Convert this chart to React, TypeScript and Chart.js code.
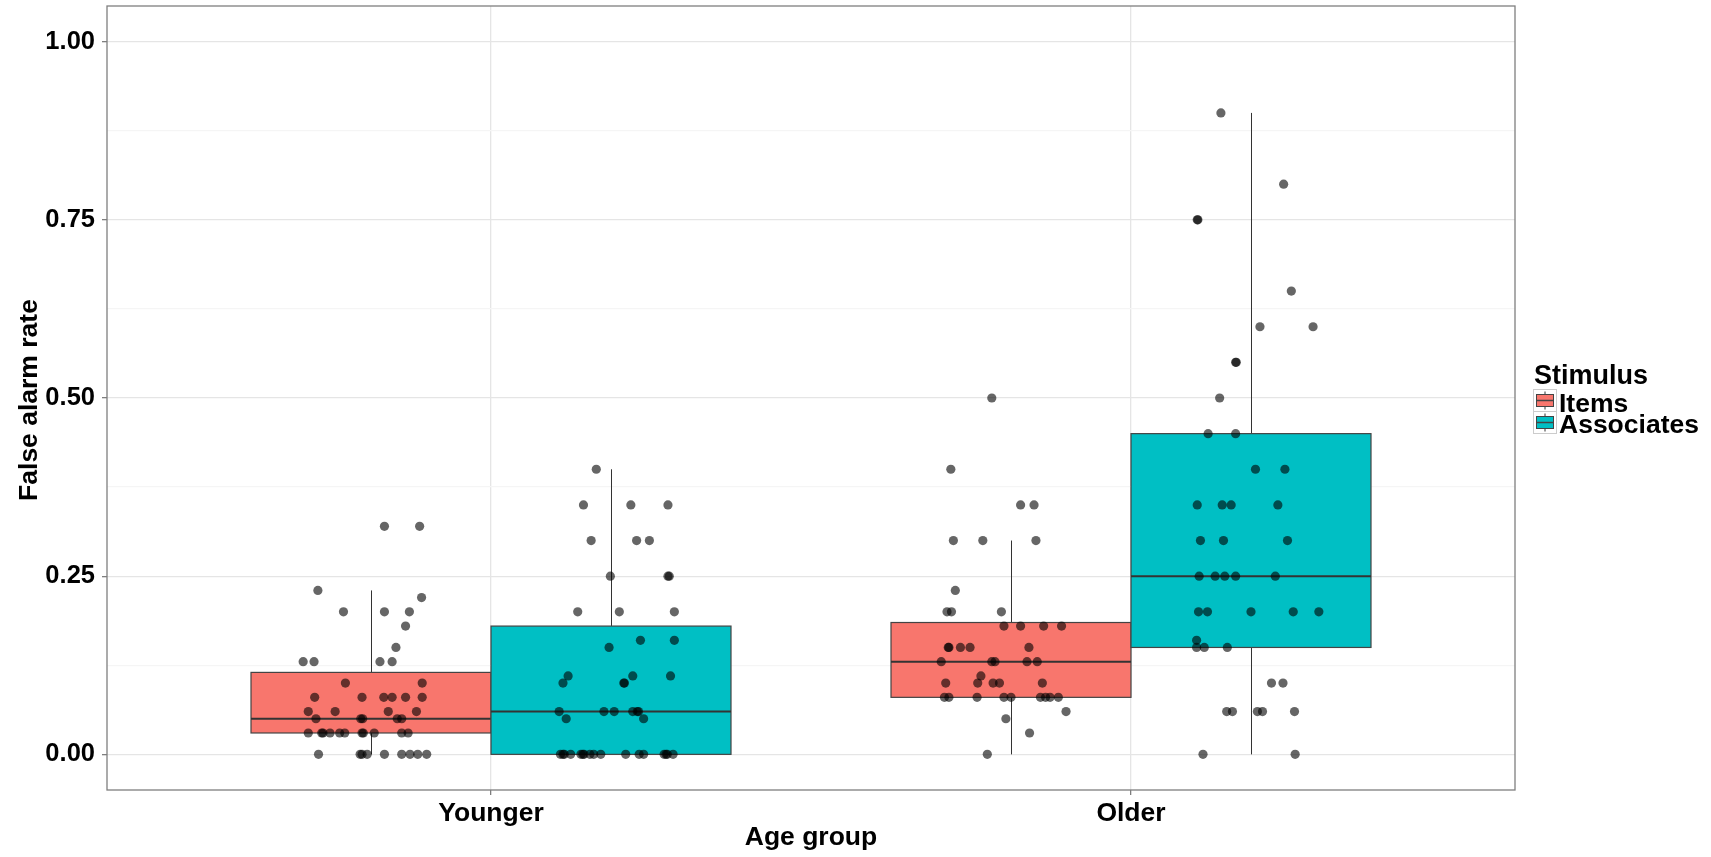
import React, { useEffect, useRef } from 'react';
import { Chart, registerables } from 'chart.js';

Chart.register(...registerables);

const categories = ['Younger', 'Older'];
const stimuli = ['Items', 'Associates'];
const stimulusColors = ['#F8766D', '#00BFC4'];
const xTitle = 'Age group';
const yTitle = 'False alarm rate';
const legendTitle = 'Stimulus';

const yMajorTicks = [0, 0.25, 0.5, 0.75, 1.0];
const yTickLabels = ['0.00', '0.25', '0.50', '0.75', '1.00'];
const yMinorTicks = [0.125, 0.375, 0.625, 0.875];

// Box statistics, indexed by category (Younger, Older)
const itemsLower = [0, 0];
const itemsQ1 = [0.03, 0.08];
const itemsMedian = [0.05, 0.13];
const itemsQ3 = [0.115, 0.185];
const itemsUpper = [0.23, 0.3];

const associatesLower = [0, 0];
const associatesQ1 = [0, 0.15];
const associatesMedian = [0.06, 0.25];
const associatesQ3 = [0.18, 0.45];
const associatesUpper = [0.4, 0.9];

// Individual observations (value) and their horizontal jitter
const youngerItemsValues = [0.32, 0.32, 0.23, 0.22, 0.2, 0.2, 0.2, 0.18, 0.15, 0.13, 0.13, 0.13, 0.13, 0.1, 0.1, 0.08, 0.08, 0.08, 0.08, 0.08, 0.08, 0.06, 0.06, 0.06, 0.06, 0.05, 0.05, 0.05, 0.05, 0.05, 0.03, 0.03, 0.03, 0.03, 0.03, 0.03, 0.03, 0.03, 0.03, 0.03, 0.03, 0, 0, 0, 0, 0, 0, 0, 0, 0];
const youngerItemsJitter = [0.021, 0.076, -0.083, 0.079, -0.043, 0.021, 0.06, 0.054, 0.039, -0.106, -0.089, 0.014, 0.033, -0.04, 0.08, -0.088, -0.014, 0.02, 0.033, 0.054, 0.08, -0.098, -0.056, 0.027, 0.071, -0.086, -0.016, -0.013, 0.041, 0.048, -0.098, -0.077, -0.075, -0.064, -0.049, -0.041, -0.014, -0.012, 0.005, 0.048, 0.058, -0.082, -0.017, -0.014, -0.006, 0.021, 0.048, 0.061, 0.073, 0.087];

const youngerAssociatesValues = [0.4, 0.35, 0.35, 0.35, 0.3, 0.3, 0.3, 0.25, 0.25, 0.25, 0.2, 0.2, 0.2, 0.16, 0.16, 0.15, 0.11, 0.11, 0.11, 0.1, 0.1, 0.1, 0.06, 0.06, 0.06, 0.06, 0.06, 0.06, 0.05, 0.05, 0, 0, 0, 0, 0, 0, 0, 0, 0, 0, 0, 0, 0, 0, 0, 0, 0];
const youngerAssociatesJitter = [-0.023, -0.043, 0.031, 0.089, -0.031, 0.04, 0.06, -0.001, 0.089, 0.091, -0.052, 0.013, 0.099, 0.046, 0.099, -0.003, -0.067, 0.034, 0.093, -0.075, 0.02, 0.021, -0.081, -0.011, 0.005, 0.034, 0.041, 0.043, -0.07, 0.051, -0.079, -0.075, -0.073, -0.063, -0.047, -0.044, -0.042, -0.033, -0.027, -0.016, 0.023, 0.044, 0.051, 0.083, 0.086, 0.088, 0.097];

const olderItemsValues = [0.5, 0.4, 0.35, 0.35, 0.3, 0.3, 0.3, 0.23, 0.2, 0.2, 0.2, 0.18, 0.18, 0.18, 0.18, 0.15, 0.15, 0.15, 0.15, 0.15, 0.13, 0.13, 0.13, 0.13, 0.13, 0.11, 0.1, 0.1, 0.1, 0.1, 0.1, 0.08, 0.08, 0.08, 0.08, 0.08, 0.08, 0.08, 0.08, 0.08, 0.06, 0.05, 0.03, 0];
const olderItemsJitter = [-0.03, -0.094, 0.015, 0.036, -0.09, -0.044, 0.039, -0.087, -0.1, -0.093, -0.015, -0.011, 0.015, 0.051, 0.079, -0.098, -0.097, -0.079, -0.064, 0.028, -0.109, -0.03, -0.025, 0.025, 0.041, -0.047, -0.102, -0.052, -0.028, -0.018, 0.049, -0.104, -0.097, -0.053, -0.011, 0.0, 0.046, 0.054, 0.061, 0.074, 0.086, -0.008, 0.029, -0.037];

const olderAssociatesValues = [0.9, 0.8, 0.75, 0.75, 0.65, 0.6, 0.6, 0.55, 0.55, 0.5, 0.45, 0.45, 0.4, 0.4, 0.35, 0.35, 0.35, 0.35, 0.3, 0.3, 0.3, 0.25, 0.25, 0.25, 0.25, 0.25, 0.2, 0.2, 0.2, 0.2, 0.2, 0.16, 0.15, 0.15, 0.15, 0.1, 0.1, 0.06, 0.06, 0.06, 0.06, 0.06, 0, 0];
const olderAssociatesJitter = [-0.047, 0.051, -0.084, -0.083, 0.063, 0.014, 0.097, -0.024, -0.023, -0.049, -0.067, -0.024, 0.007, 0.053, -0.084, -0.045, -0.031, 0.042, -0.079, -0.043, 0.057, -0.081, -0.056, -0.041, -0.024, 0.038, -0.082, -0.068, 0.0, 0.066, 0.106, -0.085, -0.085, -0.073, -0.037, 0.032, 0.05, -0.038, -0.029, 0.01, 0.018, 0.068, -0.075, 0.069];

const DODGE = [-0.1875, 0.1875];
const HALF_BOX = 0.1875;
const FONT = '"Liberation Sans", Arial, Helvetica, sans-serif';

const boxStats = [
  { lower: itemsLower, q1: itemsQ1, median: itemsMedian, q3: itemsQ3, upper: itemsUpper },
  { lower: associatesLower, q1: associatesQ1, median: associatesMedian, q3: associatesQ3, upper: associatesUpper },
];

const pointGroups = [
  { cat: 0, stim: 0, values: youngerItemsValues, jitter: youngerItemsJitter },
  { cat: 0, stim: 1, values: youngerAssociatesValues, jitter: youngerAssociatesJitter },
  { cat: 1, stim: 0, values: olderItemsValues, jitter: olderItemsJitter },
  { cat: 1, stim: 1, values: olderAssociatesValues, jitter: olderAssociatesJitter },
];

const boxPlugin = {
  id: 'ggBoxes',
  beforeDatasetsDraw(chart: any) {
    const { ctx, scales } = chart;
    const xs = scales.x;
    const ys = scales.y;
    ctx.save();
    boxStats.forEach((s, si) => {
      categories.forEach((_, ci) => {
        const c = ci + 1 + DODGE[si];
        const xl = xs.getPixelForValue(c - HALF_BOX);
        const xr = xs.getPixelForValue(c + HALF_BOX);
        const xc = Math.round(xs.getPixelForValue(c)) + 0.5;
        const yLo = ys.getPixelForValue(s.lower[ci]);
        const yQ1 = ys.getPixelForValue(s.q1[ci]);
        const yMed = ys.getPixelForValue(s.median[ci]);
        const yQ3 = ys.getPixelForValue(s.q3[ci]);
        const yHi = ys.getPixelForValue(s.upper[ci]);
        ctx.strokeStyle = '#333333';
        ctx.lineWidth = 1;
        ctx.beginPath();
        ctx.moveTo(xc, yHi);
        ctx.lineTo(xc, yQ3);
        ctx.moveTo(xc, yQ1);
        ctx.lineTo(xc, yLo);
        ctx.stroke();
        ctx.fillStyle = stimulusColors[si];
        ctx.fillRect(xl, yQ3, xr - xl, yQ1 - yQ3);
        ctx.strokeStyle = '#444444';
        ctx.lineWidth = 1.2;
        ctx.strokeRect(xl, yQ3, xr - xl, yQ1 - yQ3);
        ctx.strokeStyle = '#333333';
        ctx.lineWidth = 2;
        ctx.beginPath();
        ctx.moveTo(xl, yMed);
        ctx.lineTo(xr, yMed);
        ctx.stroke();
      });
    });
    ctx.restore();
  },
  afterDraw(chart: any) {
    const { ctx, chartArea } = chart;
    ctx.save();
    // panel border
    ctx.strokeStyle = '#7f7f7f';
    ctx.lineWidth = 1.3;
    ctx.strokeRect(chartArea.left, chartArea.top, chartArea.right - chartArea.left, chartArea.bottom - chartArea.top);

    ctx.fillStyle = '#000000';
    ctx.font = `bold 26.5px ${FONT}`;
    ctx.textAlign = 'center';
    ctx.textBaseline = 'alphabetic';
    ctx.fillText(xTitle, (chartArea.left + chartArea.right) / 2, 845);

    ctx.save();
    ctx.translate(37, (chartArea.top + chartArea.bottom) / 2 + 2);
    ctx.rotate(-Math.PI / 2);
    ctx.font = `bold 26.5px ${FONT}`;
    ctx.fillText(yTitle, 0, 0);
    ctx.restore();

    // legend
    const lx = 1534;
    ctx.textAlign = 'left';
    ctx.font = `bold 27px ${FONT}`;
    ctx.fillText(legendTitle, lx, 384);
    const keyTops = [389.5, 411.5];
    const baselines = [411.5, 432.5];
    stimuli.forEach((name, i) => {
      const kt = keyTops[i];
      const kw = 23;
      const kh = 22;
      ctx.fillStyle = '#ffffff';
      ctx.fillRect(lx - 0.5, kt, kw, kh);
      ctx.strokeStyle = '#cccccc';
      ctx.lineWidth = 1;
      ctx.strokeRect(lx - 0.5, kt, kw, kh);
      const cx = lx - 0.5 + kw / 2;
      ctx.strokeStyle = '#333333';
      ctx.beginPath();
      ctx.moveTo(cx, kt + 2);
      ctx.lineTo(cx, kt + kh - 2);
      ctx.stroke();
      ctx.fillStyle = stimulusColors[i];
      ctx.fillRect(lx + 2.5, kt + 5, kw - 6, kh - 10);
      ctx.strokeStyle = '#444444';
      ctx.strokeRect(lx + 2.5, kt + 5, kw - 6, kh - 10);
      ctx.lineWidth = 1.5;
      ctx.beginPath();
      ctx.moveTo(lx + 2.5, kt + kh / 2);
      ctx.lineTo(lx + kw - 3.5, kt + kh / 2);
      ctx.stroke();
      ctx.fillStyle = '#000000';
      ctx.font = `bold 26.5px ${FONT}`;
      ctx.fillText(name, 1559, baselines[i]);
    });
    ctx.restore();
  },
};

export default function App() {
  const canvasRef = useRef<HTMLCanvasElement | null>(null);

  useEffect(() => {
    if (!canvasRef.current) return;
    const datasets = pointGroups.map((g) => ({
      label: `${categories[g.cat]} ${stimuli[g.stim]}`,
      data: g.values.map((v, i) => ({ x: g.cat + 1 + DODGE[g.stim] + g.jitter[i], y: v })),
      pointRadius: 4.6,
      pointHoverRadius: 4.6,
      pointBackgroundColor: 'rgba(0,0,0,0.6)',
      pointBorderWidth: 0,
      pointBorderColor: 'rgba(0,0,0,0)',
    }));
    const allYTicks = [...yMajorTicks, ...yMinorTicks].sort((a, b) => a - b);
    const isMajor = (v: number) => yMajorTicks.some((m) => Math.abs(m - v) < 1e-9);

    const chart = new Chart(canvasRef.current, {
      type: 'scatter',
      data: { datasets },
      plugins: [boxPlugin],
      options: {
        animation: false,
        responsive: false,
        devicePixelRatio: 1,
        layout: { padding: { top: 6, right: 196, left: 0, bottom: 0 } },
        plugins: { legend: { display: false }, tooltip: { enabled: false } },
        events: [],
        scales: {
          x: {
            type: 'linear',
            min: 0.4,
            max: 2.6,
            afterFit: (s: any) => { s.height = 67; s.paddingLeft = 0; s.paddingRight = 0; s.paddingTop = 0; s.paddingBottom = 0; },
            afterBuildTicks: (s: any) => { s.ticks = [{ value: 1 }, { value: 2 }]; },
            border: { display: false },
            grid: { color: '#e5e5e5', lineWidth: 1.3, tickLength: 5, tickColor: '#7f7f7f', drawTicks: true },
            ticks: {
              autoSkip: false,
              maxRotation: 0,
              padding: 3,
              color: '#000000',
              font: { family: FONT, size: 26.5, weight: 'bold' },
              callback: (v: any) => categories[Math.round(Number(v)) - 1] ?? '',
            },
          },
          y: {
            type: 'linear',
            min: -0.05,
            max: 1.05,
            afterFit: (s: any) => { s.width = 107; s.paddingTop = 0; s.paddingBottom = 0; s.paddingLeft = 0; s.paddingRight = 0; },
            afterBuildTicks: (s: any) => { s.ticks = allYTicks.map((v) => ({ value: v })); },
            border: { display: false },
            grid: {
              color: (c: any) => (isMajor(c.tick?.value) ? '#e5e5e5' : '#f5f5f5'),
              lineWidth: 1.3,
              tickLength: 5,
              tickColor: (c: any) => (isMajor(c.tick?.value) ? '#7f7f7f' : 'rgba(0,0,0,0)'),
            },
            ticks: {
              autoSkip: false,
              padding: 7,
              color: '#000000',
              font: { family: FONT, size: 25.5, weight: 'bold' },
              callback: (v: any) => {
                const idx = yMajorTicks.findIndex((m) => Math.abs(m - Number(v)) < 1e-9);
                return idx >= 0 ? yTickLabels[idx] : '';
              },
            },
          },
        },
      } as any,
    });
    return () => chart.destroy();
  }, []);

  return (
    <div style={{ position: 'absolute', left: 0, top: 0, width: 1711, height: 857, background: '#ffffff' }}>
      <canvas ref={canvasRef} width={1711} height={857} style={{ width: 1711, height: 857, display: 'block' }} />
    </div>
  );
}
